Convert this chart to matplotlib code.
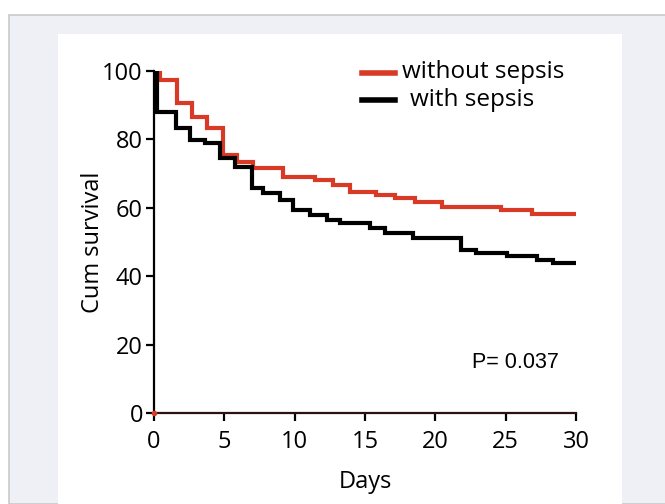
import matplotlib
matplotlib.use("Agg")
import matplotlib.pyplot as plt
from matplotlib.lines import Line2D
from matplotlib.patches import Rectangle

# Kaplan-Meier step data (days, cum survival %)
t_without = [0, 0.43, 1.66, 2.68, 3.74, 4.93, 5.88, 7.06, 9.18, 11.44, 12.74, 13.9,
             15.8, 17.1, 18.55, 20.45, 24.7, 26.85, 30]
s_without = [100, 97.4, 90.6, 86.5, 83.2, 75.4, 73.5, 71.5, 69.1, 68.1, 66.7, 64.5,
             63.7, 62.8, 61.8, 60.3, 59.4, 58.2, 58.2]

t_with = [0, 0.2, 1.54, 2.56, 3.62, 4.69, 5.76, 6.94, 7.77, 8.95, 9.9, 11.1, 12.27,
          13.2, 15.35, 16.4, 18.4, 21.85, 22.9, 25.1, 27.2, 28.4, 30]
s_with = [100, 88.1, 83.2, 79.8, 78.9, 74.5, 72.0, 65.7, 64.2, 62.3, 59.4, 57.9, 56.4,
          55.6, 54.0, 52.5, 51.1, 47.7, 46.7, 46.0, 44.7, 43.9, 43.9]

xticks = [0, 5, 10, 15, 20, 25, 30]
yticks = [0, 20, 40, 60, 80, 100]

red = '#d93a25'
font = 'Open Sans'

fig = plt.figure(figsize=(6.65, 5.04), dpi=100)
fig.patch.set_facecolor('white')

# grey page frame and white panel behind the chart
W, H = 665, 504
fig.patches.append(Rectangle((9 / W, 0), 1, 1 - 15 / H, transform=fig.transFigure,
                             facecolor='#eff0f5', edgecolor='#c9c9c9', lw=1.2, zorder=0))
fig.patches.append(Rectangle((58 / W, 0), (622 - 58) / W, 1 - 34 / H, transform=fig.transFigure,
                             facecolor='white', edgecolor='none', zorder=0.5))

ax = fig.add_axes([154 / W, 1 - 413 / H, (576 - 154) / W, (413 - 71) / H])
ax.set_zorder(2)
ax.patch.set_alpha(0)

ax.plot(t_without, s_without, drawstyle='steps-post', color=red, lw=3, solid_joinstyle='miter')
ax.plot(t_with, s_with, drawstyle='steps-post', color='black', lw=3, solid_joinstyle='miter')
ax.plot([0], [0], 'o', color=red, ms=3, clip_on=False, zorder=4)

ax.set_xlim(0, 30)
ax.set_ylim(0, 100)
ax.set_xticks(xticks)
ax.set_yticks(yticks)
for s in ['top', 'right']:
    ax.spines[s].set_visible(False)
for s in ['left', 'bottom']:
    ax.spines[s].set_linewidth(1.6)
ax.spines['bottom'].set_color('#2a1210')
ax.tick_params(direction='out', length=6, width=1.6, labelsize=17)
ax.tick_params(axis='y', pad=2)
ax.tick_params(axis='x', pad=6)
for lab in ax.get_xticklabels() + ax.get_yticklabels():
    lab.set_family(font)

ax.set_xlabel('Days', fontsize=17, family=font, labelpad=12)
ax.set_ylabel('Cum survival', fontsize=17, family=font, labelpad=-2)

# legend drawn in figure space
fig.lines.append(Line2D([362 / W, 395 / W], [1 - 73 / H, 1 - 73 / H], transform=fig.transFigure,
                        color=red, lw=4, zorder=3))
fig.lines.append(Line2D([362 / W, 395 / W], [1 - 100 / H, 1 - 100 / H], transform=fig.transFigure,
                        color='black', lw=4, zorder=3))
fig.text(402 / W, 1 - 72 / H, 'without sepsis', fontsize=17.5, family=font, va='center', zorder=3)
fig.text(410 / W, 1 - 100 / H, 'with sepsis', fontsize=17.5, family=font, va='center', zorder=3)

ax.text(472 / W, 1 - 363 / H, 'P= 0.037', transform=fig.transFigure, fontsize=15.5,
        family='Liberation Sans', va='center')

fig.savefig('out.png', dpi=100)
